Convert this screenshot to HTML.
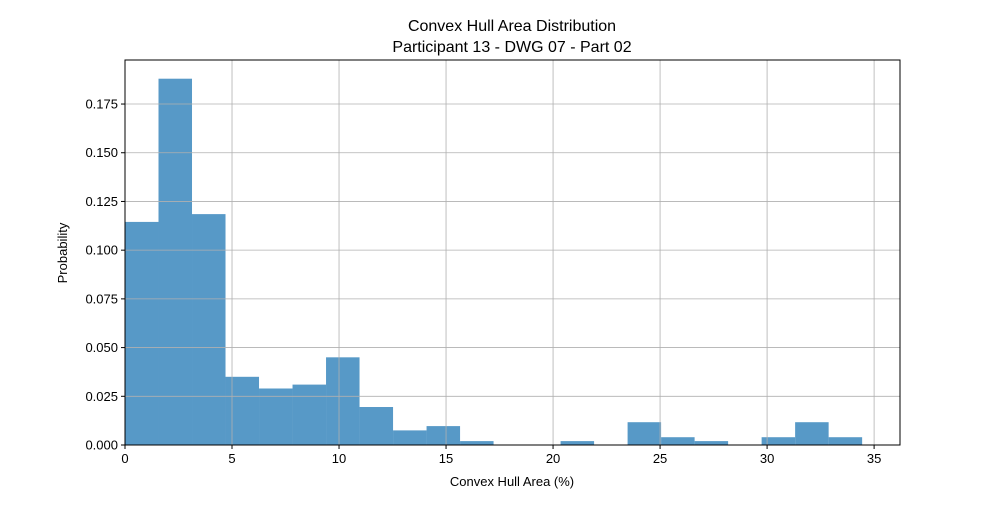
<!DOCTYPE html>
<html><head><meta charset="utf-8"><style>
body{margin:0;background:#fff;font-family:"Liberation Sans","DejaVu Sans",sans-serif;}
</style></head><body>
<svg id="chart" width="1000" height="500" xmlns="http://www.w3.org/2000/svg"></svg>
<script>
const binStart = 0;
const binWidth = 1.5655;
const probabilities = [0.1145,0.188,0.1185,0.035,0.029,0.031,0.045,0.0195,0.0075,0.0097,0.002,0,0,0.002,0,0.0117,0.004,0.002,0,0.004,0.0117,0.004];
const xTicks = [0,5,10,15,20,25,30,35];
const yTicks = [0,0.025,0.05,0.075,0.1,0.125,0.15,0.175];
const yTickLabels = ["0.000","0.025","0.050","0.075","0.100","0.125","0.150","0.175"];

const L=125,R=900,T=60,B=445,XMAX=36.21,YMAX=0.1976;
const sx=v=>L+v/XMAX*(R-L);
const sy=v=>B-v/YMAX*(B-T);
const svg=document.getElementById('chart');
const NS='http://www.w3.org/2000/svg';
function mk(tag,attrs,parent){const e=document.createElementNS(NS,tag);for(const k in attrs)e.setAttribute(k,attrs[k]);(parent||svg).appendChild(e);return e;}

const bars=mk('g',{});


probabilities.forEach((p,i)=>{
  const x0=sx(binStart+i*binWidth),x1=sx(binStart+(i+1)*binWidth);
  const r=mk('rect',{x:x0,y:sy(p),width:x1-x0,height:B-sy(p),fill:'#5799c7'},bars);
  
  
});
const grid=mk('g',{stroke:'#b0b0b0','stroke-width':0.8});


xTicks.forEach(t=>mk('line',{x1:sx(t),x2:sx(t),y1:T,y2:B},grid));
yTicks.forEach(t=>mk('line',{x1:L,x2:R,y1:sy(t),y2:sy(t)},grid));
const frame=mk('rect',{x:L,y:T,width:R-L,height:B-T,fill:'none',stroke:'#000','stroke-width':1});


xTicks.forEach(t=>{
  mk('line',{x1:sx(t),x2:sx(t),y1:B,y2:B+4,stroke:'#000'});
  const tx=mk('text',{x:sx(t),y:B+18,'text-anchor':'middle','font-size':13});
  tx.textContent=t;
  
  
});
yTicks.forEach((t,i)=>{
  mk('line',{x1:L-4,x2:L,y1:sy(t),y2:sy(t),stroke:'#000'});
  const tx=mk('text',{x:L-7,y:sy(t)+4.5,'text-anchor':'end','font-size':13});
  tx.textContent=yTickLabels[i];
  
  
});
</script>
<svg style="position:absolute;left:0;top:0" width="1000" height="500">
<text x="512" y="31" text-anchor="middle" font-size="16" font-family="Liberation Sans,sans-serif">Convex Hull Area Distribution</text>
<text x="512" y="52" text-anchor="middle" font-size="16" font-family="Liberation Sans,sans-serif">Participant 13 - DWG 07 - Part 02</text>
<text x="512" y="486" text-anchor="middle" font-size="13" font-family="Liberation Sans,sans-serif">Convex Hull Area (%)</text>
<text x="67" y="253" text-anchor="middle" font-size="13" font-family="Liberation Sans,sans-serif" transform="rotate(-90 67 253)">Probability</text>
</svg>
</body></html>
